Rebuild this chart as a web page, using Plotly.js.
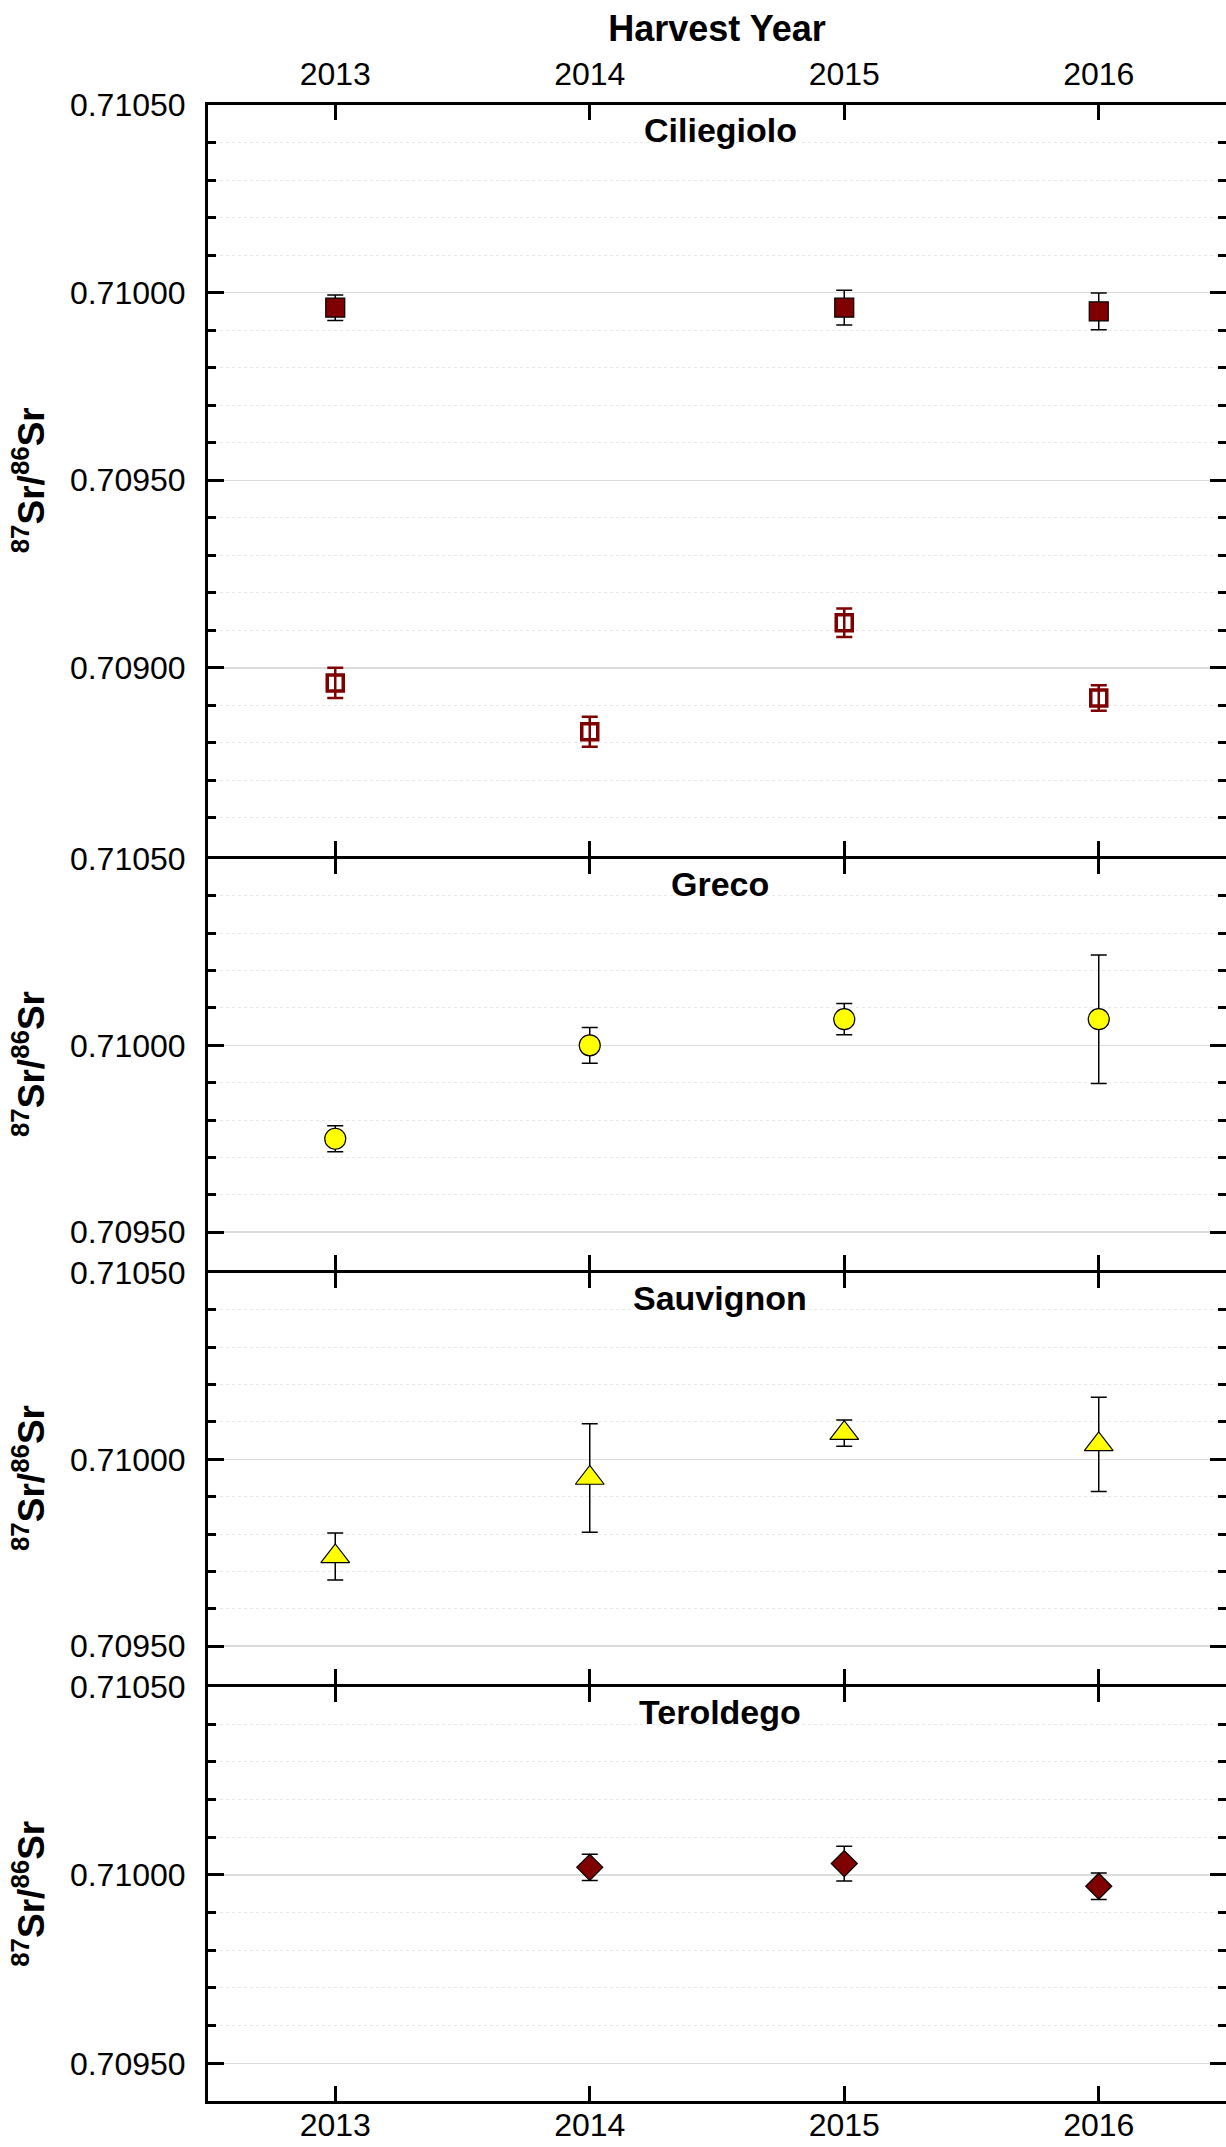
<!DOCTYPE html>
<html>
<head>
<meta charset="utf-8">
<script src="https://cdn.plot.ly/plotly-3.0.1.min.js"></script>
<style>
  html, body { margin: 0; padding: 0; background: #ffffff; overflow: hidden; }
  #chart { width: 1226px; height: 2147px; }
</style>
</head>
<body>
<div id="chart"></div>
<script>
// ---------- data ----------
const years = [2013, 2014, 2015, 2016];
const yearLabels = ['2013', '2014', '2015', '2016'];

// Ciliegiolo – filled squares (no 2014 value)
const cilFilledYears = [2013, 2015, 2016];
const cilFilled = [0.70996, 0.70996, 0.70995];
const cilFilledErr = [0.000034, 0.000046, 0.000049];

// Ciliegiolo – open squares
const cilOpenYears = [2013, 2014, 2015, 2016];
const cilOpen = [0.70896, 0.70883, 0.70912, 0.70892];
const cilOpenErr = [0.000040, 0.000040, 0.000038, 0.000034];

// Greco – circles
const grecoYears = [2013, 2014, 2015, 2016];
const greco = [0.70975, 0.71000, 0.71007, 0.71007];
const grecoErr = [0.000035, 0.000048, 0.000042, 0.000172];

// Sauvignon – triangles
const sauvYears = [2013, 2014, 2015, 2016];
const sauv = [0.70974, 0.70995, 0.71007, 0.71004];
const sauvErr = [0.000063, 0.000145, 0.000035, 0.000126];

// Teroldego – diamonds (no 2013 value)
const terYears = [2014, 2015, 2016];
const ter = [0.71002, 0.71003, 0.70997];
const terErr = [0.000035, 0.000046, 0.000035];

const panelNames = ['Ciliegiolo', 'Greco', 'Sauvignon', 'Teroldego'];
const yTitle = '<sup>87</sup>Sr/<sup>86</sup>Sr';
const xTitle = 'Harvest Year';

// ---------- styles ----------
const DARKRED = '#7f0000';
const YELLOW = '#ffff00';
const FONT = 'Liberation Sans, Arial, Helvetica, sans-serif';
const LW = 3;

function blackErr(arr) {
  return { type: 'data', array: arr, visible: true, color: '#000000', thickness: 1.5, width: 8 };
}

const traces = [
  {
    x: cilOpenYears, y: cilOpen, xaxis: 'x', yaxis: 'y', type: 'scatter', mode: 'markers',
    marker: { symbol: 'square-open', size: 16, color: DARKRED, line: { color: DARKRED, width: 3.5 } },
    error_y: { type: 'data', array: cilOpenErr, visible: true, color: DARKRED, thickness: 2.5, width: 8 },
    name: 'Ciliegiolo (open)'
  },
  {
    x: cilFilledYears, y: cilFilled, xaxis: 'x', yaxis: 'y', type: 'scatter', mode: 'markers',
    marker: { symbol: 'square', size: 19, color: DARKRED, line: { color: '#000000', width: 1.2 } },
    error_y: blackErr(cilFilledErr),
    name: 'Ciliegiolo'
  },
  {
    x: grecoYears, y: greco, xaxis: 'x2', yaxis: 'y2', type: 'scatter', mode: 'markers',
    marker: { symbol: 'circle', size: 21, color: YELLOW, line: { color: '#000000', width: 1.2 } },
    error_y: blackErr(grecoErr),
    name: 'Greco'
  },
  {
    x: sauvYears, y: sauv, xaxis: 'x3', yaxis: 'y3', type: 'scatter', mode: 'markers',
    marker: { symbol: 'triangle-up', size: 25, color: YELLOW, line: { color: '#000000', width: 1.2 } },
    error_y: blackErr(sauvErr),
    name: 'Sauvignon'
  },
  {
    x: terYears, y: ter, xaxis: 'x4', yaxis: 'y4', type: 'scatter', mode: 'markers',
    marker: { symbol: 'diamond', size: 20, color: DARKRED, line: { color: '#000000', width: 1.2 } },
    error_y: blackErr(terErr),
    name: 'Teroldego'
  }
];

// ---------- geometry: panel boundaries (px from top of plot area) ----------
const W = 1226, HTOT = 2147, MT = 105, MB = 46, ML = 208;
const PH = HTOT - MT - MB;                 // plot-area height
const bounds = [0, 752, 1166, 1580, PH];    // panel separators
function frac(px) { return (PH - px) / PH; }
function dom(i) {
  const top = bounds[i] + (i === 0 ? 0 : LW / 2);
  const bot = bounds[i + 1] - (i === 3 ? 0 : LW / 2);
  return [frac(bot), frac(top)];
}

// ---------- axes ----------
const xBase = {
  range: [2012.5, 2016.5],
  tickmode: 'array', tickvals: years, ticktext: yearLabels,
  showline: true, linecolor: '#000000', linewidth: LW, mirror: 'ticks',
  ticks: 'inside', ticklen: 15, tickwidth: 3, tickcolor: '#000000',
  showgrid: false, zeroline: false, fixedrange: true,
  ticklabelstandoff: 4,
  tickfont: { family: FONT, size: 32, color: '#000000' }
};

function yAxis(domain, range, tickvals) {
  return {
    domain: domain, range: range,
    tickmode: 'array', tickvals: tickvals, tickformat: '.5f',
    showline: true, linecolor: '#000000', linewidth: LW, mirror: 'ticks',
    ticks: 'inside', ticklen: 16, tickwidth: 3, tickcolor: '#000000',
    showgrid: true, gridcolor: '#dcdcdc', gridwidth: 1.5,
    zeroline: false, fixedrange: true,
    ticklabelstandoff: 13,
    tickfont: { family: FONT, size: 32, color: '#000000' },
    minor: {
      dtick: 0.0001, tick0: 0.7085, ticks: 'inside', ticklen: 8, tickwidth: 3, tickcolor: '#000000',
      showgrid: true, gridcolor: '#e8e8e8', gridwidth: 1, griddash: 'dot'
    },
    title: { text: yTitle, standoff: 14, font: { family: FONT, size: 37, weight: 'bold', color: '#000000' } }
  };
}

const layout = {
  width: W, height: HTOT,
  margin: { l: ML, r: 0, t: MT, b: MB, pad: 0 },
  paper_bgcolor: '#ffffff', plot_bgcolor: '#ffffff',
  showlegend: false,
  font: { family: FONT, color: '#000000' },
  xaxis: Object.assign({}, xBase, {
    anchor: 'y', side: 'top', showticklabels: true,
    title: { text: xTitle, standoff: 4, font: { family: FONT, size: 36, weight: 'bold', color: '#000000' } }
  }),
  xaxis2: Object.assign({}, xBase, { anchor: 'y2', showticklabels: false }),
  xaxis3: Object.assign({}, xBase, { anchor: 'y3', showticklabels: false }),
  xaxis4: Object.assign({}, xBase, { anchor: 'y4', side: 'bottom', showticklabels: true, ticklabelstandoff: -6 }),
  yaxis: yAxis(dom(0), [0.7085, 0.7105], [0.7090, 0.7095, 0.7100, 0.7105]),
  yaxis2: yAxis(dom(1), [0.7094, 0.7105], [0.7095, 0.7100, 0.7105]),
  yaxis3: yAxis(dom(2), [0.7094, 0.7105], [0.7095, 0.7100, 0.7105]),
  yaxis4: yAxis(dom(3), [0.7094, 0.7105], [0.7095, 0.7100, 0.7105]),
  annotations: panelNames.map((name, i) => ({
    text: name,
    xref: (i === 0 ? 'x' : 'x' + (i + 1)) + ' domain',
    yref: (i === 0 ? 'y' : 'y' + (i + 1)) + ' domain',
    x: 0.503, y: 1, xanchor: 'center', yanchor: 'top', yshift: -4,
    showarrow: false,
    bgcolor: name === 'Sauvignon' ? '#ffffff' : 'rgba(0,0,0,0)',
    font: { family: FONT, size: 34, weight: 'bold', color: '#000000' }
  }))
};

Plotly.newPlot('chart', traces, layout, { displayModeBar: false, staticPlot: true });
</script>
</body>
</html>
